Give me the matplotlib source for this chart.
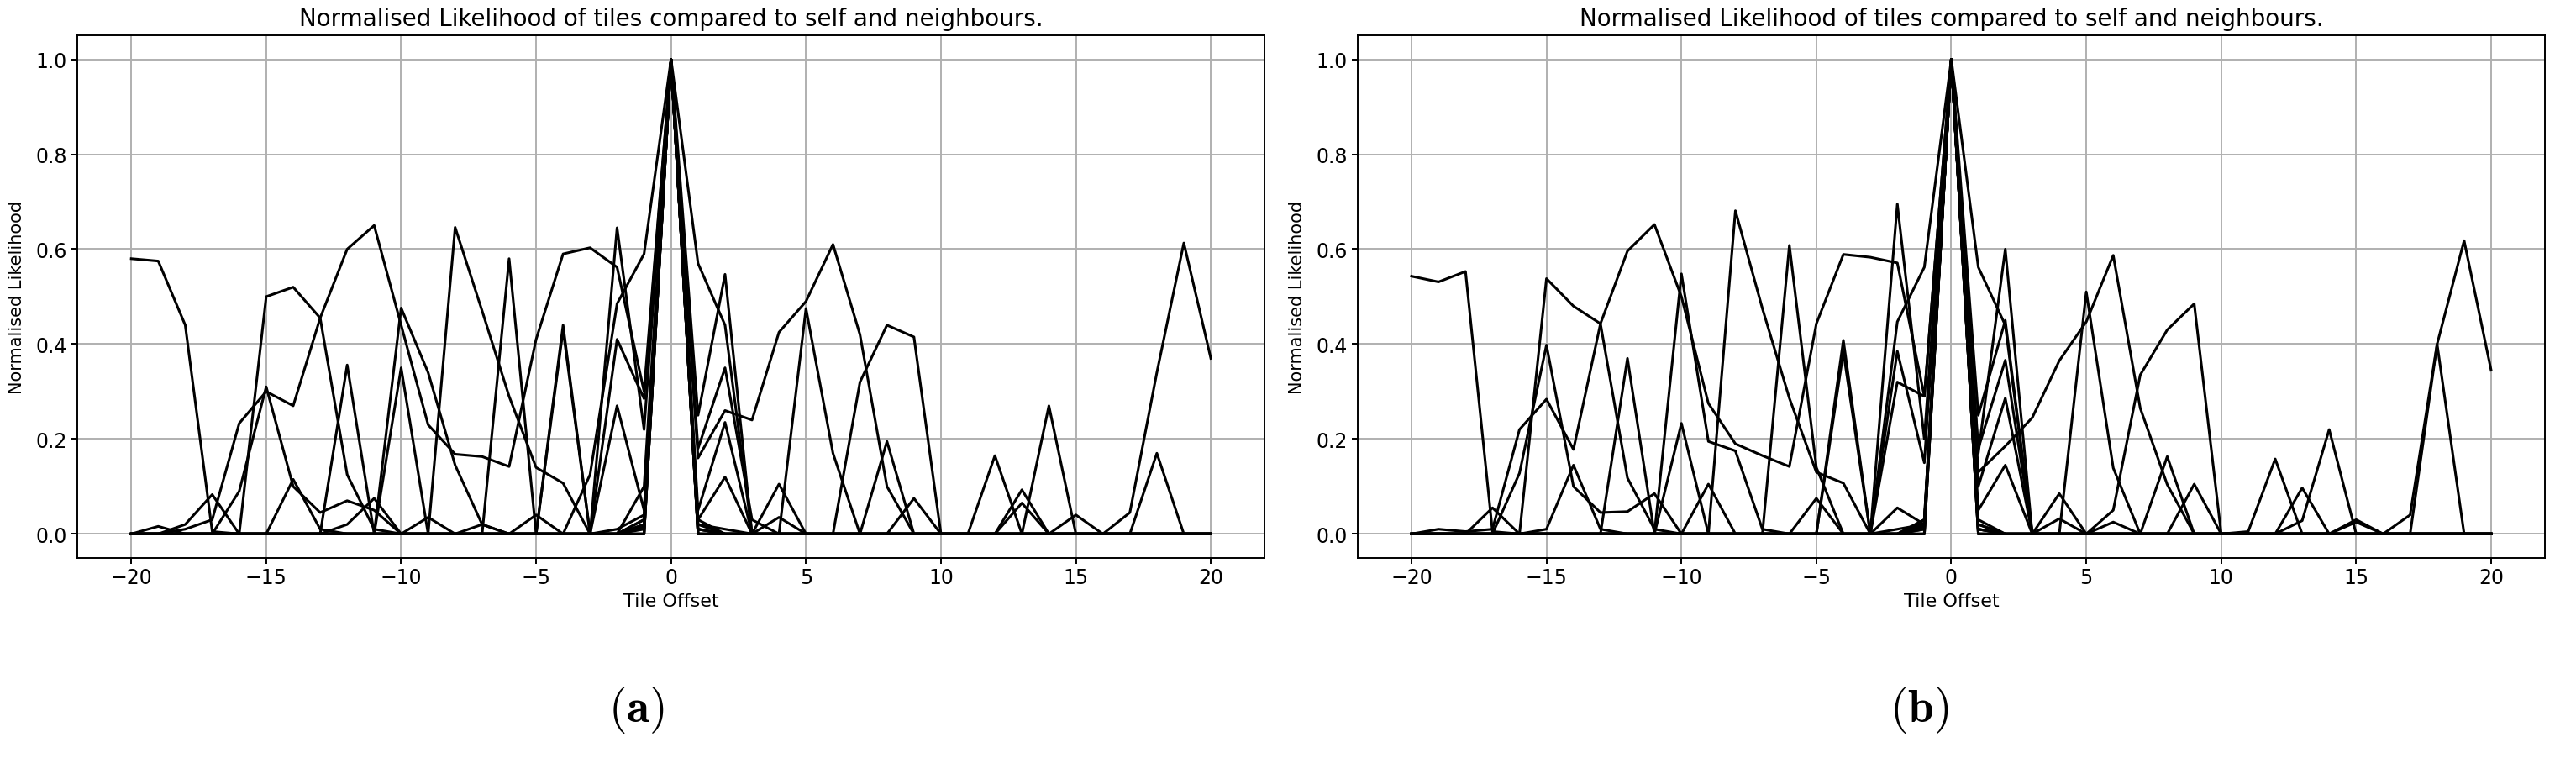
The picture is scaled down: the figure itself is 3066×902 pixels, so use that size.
import numpy as np
import matplotlib
matplotlib.use("Agg")
import matplotlib.pyplot as plt

# tile offsets shared by every curve
offsets = list(range(-20, 21))

# Panel (a): one row per tile -> [-20..-1] + [0] + [1..20]
a_series = [
    [0.58, 0.575, 0.44, 0.005, 0, 0, 0, 0, 0, 0, 0, 0, 0, 0, 0, 0, 0, 0, 0, 0.02, 1.0,
     0.57, 0.44, 0, 0, 0, 0, 0, 0, 0, 0, 0, 0, 0, 0, 0, 0, 0, 0, 0, 0],
    [0, 0, 0, 0, 0, 0.5, 0.52, 0.455, 0.125, 0.01, 0, 0, 0, 0, 0, 0, 0, 0, 0, 0.03, 1.0,
     0.16, 0.26, 0.24, 0.425, 0.49, 0.61, 0.42, 0.10, 0, 0, 0, 0, 0, 0, 0, 0, 0, 0, 0, 0],
    [0, 0, 0.01, 0.03, 0.233, 0.30, 0.27, 0.455, 0.60, 0.65, 0.44, 0.23, 0.168, 0.163, 0.142, 0.41, 0.59, 0.603, 0.562, 0.30, 1.0,
     0.25, 0.547, 0, 0, 0, 0, 0, 0, 0, 0, 0, 0, 0, 0, 0, 0, 0, 0, 0, 0],
    [0, 0, 0, 0, 0, 0, 0, 0, 0, 0, 0.476, 0.34, 0.145, 0.02, 0, 0, 0, 0, 0, 0.01, 1.0,
     0.18, 0.35, 0.03, 0, 0, 0, 0, 0, 0, 0, 0, 0, 0, 0, 0, 0, 0, 0, 0, 0],
    [0, 0, 0, 0, 0, 0, 0, 0, 0, 0, 0, 0, 0.646, 0.47, 0.29, 0.14, 0.107, 0, 0.01, 0.04, 1.0,
     0.05, 0.235, 0, 0, 0, 0, 0, 0, 0, 0, 0, 0, 0, 0, 0, 0, 0, 0, 0, 0],
    [0, 0, 0.02, 0.083, 0, 0, 0, 0, 0, 0, 0, 0, 0, 0, 0.58, 0, 0, 0, 0, 0.02, 1.0,
     0.03, 0.12, 0, 0, 0, 0, 0, 0, 0, 0, 0, 0, 0, 0, 0, 0, 0, 0, 0, 0],
    [0, 0, 0, 0, 0, 0, 0, 0, 0.356, 0, 0, 0, 0, 0, 0, 0, 0.44, 0, 0, 0.015, 1.0,
     0.02, 0, 0, 0.105, 0, 0, 0, 0, 0, 0, 0, 0, 0, 0, 0, 0, 0, 0, 0, 0],
    [0, 0, 0, 0, 0, 0, 0, 0, 0, 0, 0.35, 0, 0, 0, 0, 0, 0.43, 0, 0, 0.03, 1.0,
     0.01, 0, 0, 0, 0.475, 0.17, 0, 0, 0, 0, 0, 0, 0, 0, 0, 0, 0, 0, 0, 0],
    [0, 0, 0, 0, 0.09, 0.31, 0.10, 0.045, 0.07, 0.05, 0, 0, 0, 0, 0, 0, 0, 0.125, 0.485, 0.59, 1.0,
     0.02, 0.01, 0, 0, 0, 0, 0.32, 0.44, 0.415, 0, 0, 0, 0, 0, 0, 0, 0, 0, 0, 0],
    [0, 0, 0, 0, 0, 0, 0.115, 0.01, 0, 0, 0, 0, 0, 0, 0, 0, 0, 0, 0.645, 0.22, 1.0,
     0.03, 0, 0, 0, 0, 0, 0, 0.195, 0, 0, 0, 0, 0, 0, 0, 0, 0, 0, 0, 0],
    [0, 0, 0, 0, 0, 0, 0, 0, 0.02, 0.075, 0, 0.035, 0, 0, 0, 0, 0, 0, 0.41, 0.285, 1.0,
     0.01, 0, 0, 0, 0, 0, 0, 0, 0.075, 0, 0, 0, 0, 0, 0, 0, 0, 0, 0, 0],
    [0, 0.016, 0, 0, 0, 0, 0, 0, 0, 0, 0, 0, 0, 0.02, 0, 0.04, 0, 0, 0.27, 0.05, 1.0,
     0.01, 0, 0, 0.035, 0, 0, 0, 0, 0, 0, 0, 0.165, 0, 0, 0, 0, 0, 0, 0, 0],
    [0, 0, 0, 0, 0, 0, 0, 0, 0, 0, 0, 0, 0, 0, 0, 0, 0, 0, 0, 0.10, 1.0,
     0, 0, 0, 0, 0, 0, 0, 0, 0, 0, 0, 0, 0.093, 0, 0, 0, 0, 0, 0, 0],
    [0, 0, 0, 0, 0, 0, 0, 0, 0, 0, 0, 0, 0, 0, 0, 0, 0, 0, 0, 0, 1.0,
     0, 0, 0, 0, 0, 0, 0, 0, 0, 0, 0, 0, 0.065, 0, 0.04, 0, 0, 0, 0, 0],
    [0, 0, 0, 0, 0, 0, 0, 0, 0, 0, 0, 0, 0, 0, 0, 0, 0, 0, 0, 0, 1.0,
     0, 0, 0, 0, 0, 0, 0, 0, 0, 0, 0, 0, 0, 0.27, 0, 0, 0, 0, 0, 0],
    [0, 0, 0, 0, 0, 0, 0, 0, 0, 0, 0, 0, 0, 0, 0, 0, 0, 0, 0, 0, 1.0,
     0, 0, 0, 0, 0, 0, 0, 0, 0, 0, 0, 0, 0, 0, 0, 0, 0.045, 0.34, 0.613, 0.37],
    [0, 0, 0, 0, 0, 0, 0, 0, 0, 0, 0, 0, 0, 0, 0, 0, 0, 0, 0, 0, 1.0,
     0, 0, 0, 0, 0, 0, 0, 0, 0, 0, 0, 0, 0, 0, 0, 0, 0, 0.17, 0, 0],
]

# Panel (b)
b_series = [
    [0.543, 0.531, 0.553, 0.005, 0, 0, 0, 0, 0, 0, 0, 0, 0, 0, 0, 0, 0, 0, 0, 0.02, 1.0,
     0.562, 0.44, 0, 0, 0, 0, 0, 0, 0, 0, 0, 0, 0, 0, 0, 0, 0, 0, 0, 0],
    [0, 0, 0, 0, 0, 0.538, 0.48, 0.443, 0.118, 0.01, 0, 0, 0, 0, 0, 0, 0, 0, 0, 0.03, 1.0,
     0.13, 0.185, 0.245, 0.365, 0.447, 0.587, 0.265, 0.104, 0, 0, 0, 0, 0, 0, 0, 0, 0, 0, 0, 0],
    [0, 0.01, 0.005, 0.01, 0.22, 0.284, 0.178, 0.443, 0.596, 0.652, 0.50, 0.275, 0.19, 0.165, 0.142, 0.443, 0.589, 0.583, 0.571, 0.29, 1.0,
     0.17, 0.60, 0, 0, 0, 0, 0, 0, 0, 0, 0, 0, 0, 0, 0, 0, 0, 0, 0, 0],
    [0, 0, 0, 0, 0.128, 0.398, 0.10, 0.045, 0.047, 0.085, 0, 0, 0, 0, 0, 0, 0, 0, 0, 0.01, 1.0,
     0.25, 0.45, 0, 0, 0, 0, 0, 0, 0, 0, 0, 0, 0, 0, 0, 0, 0, 0, 0, 0],
    [0, 0, 0, 0, 0, 0.01, 0.145, 0.01, 0, 0, 0.548, 0.195, 0.175, 0.01, 0, 0, 0, 0, 0, 0.02, 1.0,
     0.18, 0.366, 0, 0, 0, 0, 0, 0, 0, 0, 0, 0, 0, 0, 0, 0, 0, 0, 0, 0],
    [0, 0, 0, 0, 0, 0, 0, 0, 0.37, 0, 0, 0, 0.681, 0.475, 0.286, 0.13, 0.107, 0, 0.01, 0.02, 1.0,
     0.10, 0.286, 0, 0, 0, 0, 0, 0, 0, 0, 0, 0, 0, 0, 0, 0, 0, 0, 0, 0],
    [0, 0, 0, 0.055, 0, 0, 0, 0, 0, 0, 0, 0, 0, 0, 0.608, 0.14, 0, 0, 0, 0.015, 1.0,
     0.05, 0.145, 0, 0, 0, 0, 0, 0, 0, 0, 0, 0, 0, 0, 0, 0, 0, 0, 0, 0],
    [0, 0, 0, 0, 0, 0, 0, 0, 0, 0, 0.233, 0, 0, 0, 0, 0, 0.408, 0, 0, 0.03, 1.0,
     0.02, 0, 0, 0.085, 0, 0, 0, 0, 0, 0, 0, 0, 0, 0, 0, 0, 0, 0, 0, 0],
    [0, 0, 0, 0, 0, 0, 0, 0, 0, 0, 0, 0.105, 0, 0, 0, 0, 0.384, 0, 0, 0.01, 1.0,
     0.01, 0, 0, 0, 0.51, 0.139, 0, 0, 0, 0, 0, 0, 0, 0, 0, 0, 0, 0, 0, 0],
    [0, 0, 0, 0, 0, 0, 0, 0, 0, 0, 0, 0, 0, 0, 0, 0.075, 0, 0, 0.695, 0.20, 1.0,
     0.03, 0, 0, 0, 0, 0.05, 0.335, 0.43, 0.485, 0, 0, 0, 0, 0, 0, 0, 0, 0, 0, 0],
    [0, 0, 0, 0, 0, 0, 0, 0, 0, 0, 0, 0, 0, 0, 0, 0, 0, 0, 0.447, 0.562, 1.0,
     0.01, 0, 0, 0, 0, 0, 0, 0.163, 0, 0, 0, 0, 0, 0, 0, 0, 0, 0, 0, 0],
    [0, 0, 0, 0, 0, 0, 0, 0, 0, 0, 0, 0, 0, 0, 0, 0, 0, 0, 0.385, 0.15, 1.0,
     0.02, 0, 0, 0, 0, 0, 0, 0, 0.105, 0, 0, 0, 0, 0, 0, 0, 0, 0, 0, 0],
    [0, 0, 0, 0, 0, 0, 0, 0, 0, 0, 0, 0, 0, 0, 0, 0, 0, 0, 0.32, 0.29, 1.0,
     0.01, 0, 0, 0, 0, 0, 0, 0, 0, 0, 0.005, 0.158, 0, 0, 0, 0, 0, 0, 0, 0],
    [0, 0, 0, 0, 0, 0, 0, 0, 0, 0, 0, 0, 0, 0, 0, 0, 0, 0, 0.055, 0.02, 1.0,
     0, 0, 0, 0.032, 0, 0.025, 0, 0, 0, 0, 0, 0, 0.097, 0, 0, 0, 0, 0, 0, 0],
    [0, 0, 0, 0, 0, 0, 0, 0, 0, 0, 0, 0, 0, 0, 0, 0, 0, 0, 0, 0, 1.0,
     0, 0, 0, 0, 0, 0, 0, 0, 0, 0, 0, 0, 0.028, 0.22, 0, 0, 0, 0, 0, 0],
    [0, 0, 0, 0, 0, 0, 0, 0, 0, 0, 0, 0, 0, 0, 0, 0, 0, 0, 0, 0, 1.0,
     0, 0, 0, 0, 0, 0, 0, 0, 0, 0, 0, 0, 0, 0, 0.03, 0, 0.04, 0.40, 0.618, 0.345],
    [0, 0, 0, 0, 0, 0, 0, 0, 0, 0, 0, 0, 0, 0, 0, 0, 0, 0, 0, 0, 1.0,
     0, 0, 0, 0, 0, 0, 0, 0, 0, 0, 0, 0, 0, 0, 0.025, 0, 0, 0.40, 0, 0],
]

panel_labels = ["(a)", "(b)"]
title = "Normalised Likelihood of tiles compared to self and neighbours."
xlabel = "Tile Offset"
ylabel = "Normalised Likelihood"

narrow = ["Liberation Sans Narrow", "DejaVu Sans"]

fig = plt.figure(figsize=(30.66, 9.03), dpi=100)
axes_pos = [[0.030, 0.264, 0.461, 0.688], [0.527, 0.264, 0.461, 0.688]]
label_x = [0.247, 0.745]

for pos, series, lab, lx in zip(axes_pos, [a_series, b_series], panel_labels, label_x):
    ax = fig.add_axes(pos)
    for s in series:
        ax.plot(offsets, s, color="black", lw=2.2)
    ax.grid(True, color="#b0b0b0", lw=1.4)
    ax.set_axisbelow(True)
    ax.set_xticks([-20, -15, -10, -5, 0, 5, 10, 15, 20])
    ax.set_yticks([0.0, 0.2, 0.4, 0.6, 0.8, 1.0])
    ax.set_title(title, fontsize=20, family=narrow, pad=9)
    ax.set_xlabel(xlabel, fontsize=16, family=narrow, labelpad=4)
    ax.set_ylabel(ylabel, fontsize=15, family="DejaVu Sans", labelpad=9)
    for t in ax.get_xticklabels() + ax.get_yticklabels():
        t.set_family(narrow)
        t.set_fontsize(17)
    ax.tick_params(length=5, width=1.4)
    for sp in ax.spines.values():
        sp.set_linewidth(1.4)
    fig.text(lx, 0.064, r"$\mathbf{%s}$" % lab, fontsize=40, ha="center", va="center",
             math_fontfamily="cm")

fig.savefig("out.png", dpi=100)
